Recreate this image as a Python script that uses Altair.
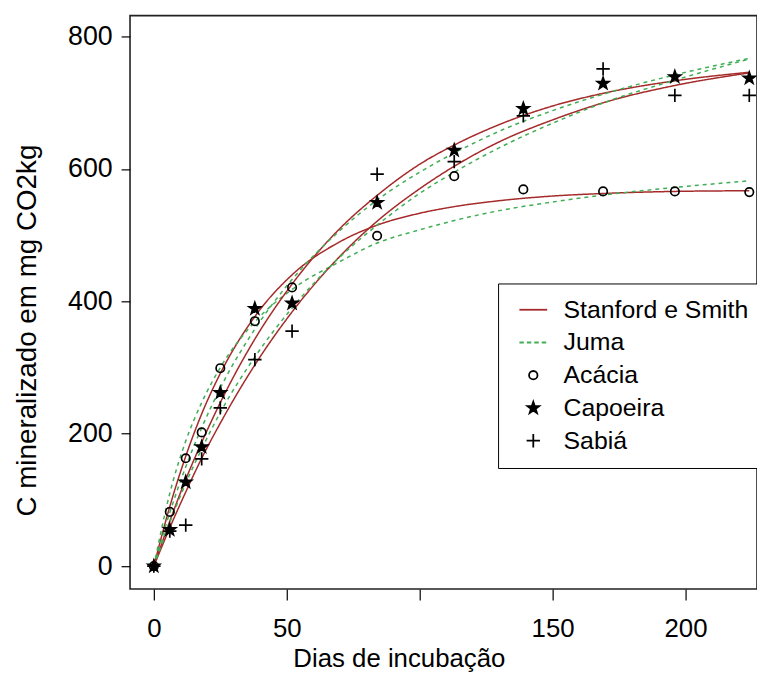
import math
import altair as alt
import pandas as pd

# ---------------- data ----------------
days_obs = [0, 6, 12, 18, 25, 38, 52, 84, 113, 139, 169, 196, 224]
acacia_obs = [0, 82, 163, 202, 299, 370, 421, 499, 589, 569, 566, 566, 565]
capoeira_obs = [0, 55, 127, 180, 262, 389, 397, 549, 628, 691, 729, 739, 737]
sabia_obs = [0, 53, 62, 162, 239, 312, 355, 592, 611, 680, 751, 711, 711]

days_fit = [0, 6, 12, 18, 25, 38, 52, 70, 84, 100, 113, 130, 150, 170, 196, 224]
acacia_ss = [0, 90, 166, 230, 291, 377, 440, 490, 515, 533, 543, 552, 559, 563, 566, 567]
acacia_juma = [0, 110, 189, 247, 300, 369, 418, 460, 488, 508, 522, 537, 550, 561, 572, 582]
capoeira_ss = [0, 68, 131, 187, 247, 343, 426, 510, 560, 607, 636, 667, 695, 715, 733, 746]
capoeira_juma = [0, 81, 150, 209, 269, 358, 433, 507, 553, 595, 624, 657, 688, 714, 742, 767]
sabia_ss = [0, 58, 112, 163, 216, 304, 384, 468, 521, 570, 604, 641, 674, 701, 726, 745]
sabia_juma = [0, 66, 125, 177, 232, 316, 390, 467, 515, 563, 595, 632, 669, 701, 734, 766]

series_names = ["Stanford e Smith", "Juma", "Acácia", "Capoeira", "Sabiá"]
x_ticks = [0, 50, 100, 150, 200]
y_ticks = [0, 200, 400, 600, 800]

# ---------------- tables ----------------
obs_rows = []
for name, vals in [("Acácia", acacia_obs), ("Capoeira", capoeira_obs), ("Sabiá", sabia_obs)]:
    for d, v in zip(days_obs, vals):
        obs_rows.append({"day": d, "value": v, "series": name})
obs_df = pd.DataFrame(obs_rows)

fit_rows = []
for model, trt, vals in [
    ("Stanford e Smith", "Acácia", acacia_ss),
    ("Juma", "Acácia", acacia_juma),
    ("Stanford e Smith", "Capoeira", capoeira_ss),
    ("Juma", "Capoeira", capoeira_juma),
    ("Stanford e Smith", "Sabiá", sabia_ss),
    ("Juma", "Sabiá", sabia_juma),
]:
    for d, v in zip(days_fit, vals):
        fit_rows.append({"day": d, "value": v, "series": model, "curve": model + "|" + trt})
fit_df = pd.DataFrame(fit_rows)

# ---------------- styles ----------------
SS_COLOR = "#a52a2a"
JUMA_COLOR = "#3fae55"
FONT = "Liberation Sans"

line_path = "M-2.8,0H2.8"
dash_path = "M-2.8,0H-1.9M-1.3,0H-0.4M0.2,0H1.1M1.7,0H2.6"
circle_path = "M0.85,0A0.85,0.85,0,1,1,-0.85,0A0.85,0.85,0,1,1,0.85,0Z"
pts = []
for i in range(10):
    r = 1.25 if i % 2 == 0 else 0.5
    a = math.radians(-90 + 36 * i)
    pts.append(f"{r*math.cos(a):.3f},{r*math.sin(a):.3f}")
star_path = "M" + "L".join(pts) + "Z"
plus_path = "M-1.35,0H1.35M0,-1.35V1.35"

shape_range = [line_path, dash_path, circle_path, star_path, plus_path]
stroke_range = [SS_COLOR, JUMA_COLOR, "black", "black", "black"]
fill_range = ["transparent", "transparent", "transparent", "black", "transparent"]

xscale = alt.Scale(domain=[-8.96, 226.9], nice=False, zero=False)
yscale = alt.Scale(domain=[-34.5, 831.5], nice=False, zero=False)

xaxis = alt.Axis(values=x_ticks, labelExpr="datum.value == 100 ? '' : datum.label",
                 title="Dias de incubação", labelFontSize=26, titleFontSize=26,
                 labelPadding=16, titlePadding=4, tickSize=11,
                 titleX=271, titleAlign="center")
yaxis = alt.Axis(values=y_ticks, title="C mineralizado em mg CO2kg",
                 labelFontSize=27, titleFontSize=28, labelPadding=9,
                 titlePadding=26, tickSize=9, titleY=317, titleAlign="center")

leg = alt.Legend(title=None, orient="none", legendX=371, legendY=270)

lines = alt.Chart(fit_df).mark_line(strokeWidth=1.5, interpolate="monotone").encode(
    x=alt.X("day:Q", scale=xscale, axis=xaxis),
    y=alt.Y("value:Q", scale=yscale, axis=yaxis),
    stroke=alt.Stroke("series:N", scale=alt.Scale(domain=series_names, range=stroke_range), legend=leg),
    strokeDash=alt.StrokeDash("series:N", scale=alt.Scale(domain=["Stanford e Smith", "Juma"],
                                                           range=[[1, 0], [4, 4]]), legend=None),
    detail="curve:N",
)

points = alt.Chart(obs_df).mark_point(filled=False, size=100, strokeWidth=1.7, opacity=1).encode(
    x=alt.X("day:Q", scale=xscale, axis=xaxis),
    y=alt.Y("value:Q", scale=yscale, axis=yaxis),
    shape=alt.Shape("series:N", scale=alt.Scale(domain=series_names, range=shape_range), legend=leg),
    stroke=alt.Stroke("series:N", scale=alt.Scale(domain=series_names, range=stroke_range), legend=leg),
    fill=alt.Fill("series:N", scale=alt.Scale(domain=series_names, range=fill_range), legend=leg),
)

chart = alt.layer(lines, points).properties(
    width=632, height=578,
    autosize=alt.AutoSizeParams(type="none"),
    padding={"left": 123, "top": 5, "right": 0, "bottom": 85},
).configure_view(
    stroke="#222", strokeWidth=1.6
).configure_axis(
    grid=False, domain=False, tickColor="black", tickWidth=1.2,
    labelColor="black", titleColor="black", labelFont=FONT, titleFont=FONT,
    titleFontWeight="normal",
).configure_legend(
    strokeColor="black", fillColor="white", padding=14,
    labelFont=FONT, labelFontSize=25, labelColor="black", labelLimit=400,
    symbolSize=100, symbolStrokeWidth=1.8, rowPadding=7,
    labelOffset=18, symbolOffset=9,
)

chart.save("out.html", embed_options={"renderer": "svg", "actions": False})
